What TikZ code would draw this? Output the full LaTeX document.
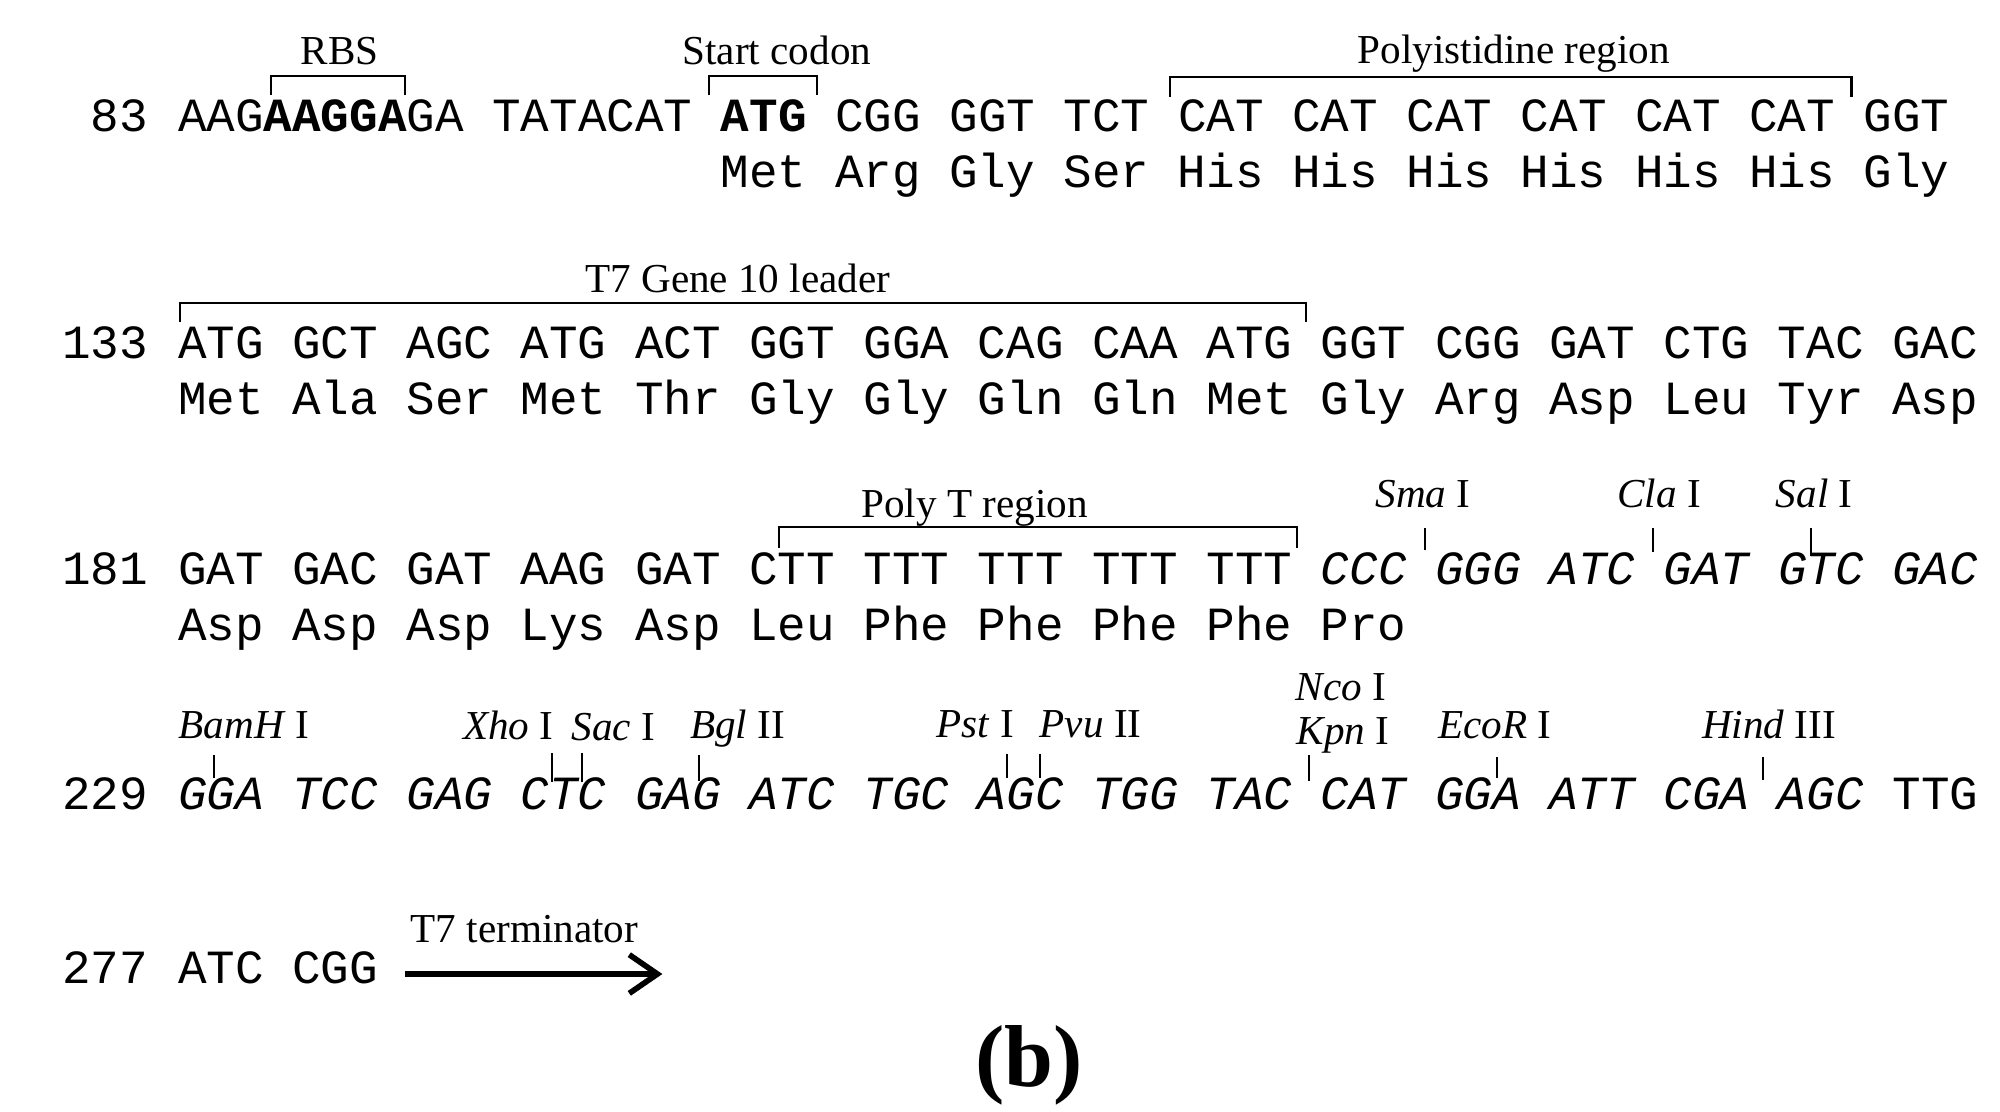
\documentclass[tikz,border=0pt]{standalone}
\usepackage{fontspec}
\setmainfont{Liberation Serif}
\setmonofont{Liberation Mono}
\usetikzlibrary{arrows.meta}
\newcommand{\tit}{\textit}

\begin{document}
\begin{tikzpicture}[x=0.01cm,y=-0.01cm,
  seq/.style={font=\fontsize{13.54}{16}\ttfamily, inner sep=0pt, anchor=base west},
  num/.style={font=\fontsize{13.54}{16}\ttfamily, inner sep=0pt, anchor=base east},
  lbl/.style={font=\fontsize{11.7}{14}\selectfont, inner sep=0pt, anchor=base},
  brk/.style={line width=0.65pt},
  cut/.style={line width=0.55pt}]
\useasboundingbox (0,0) rectangle (2000,1111);
\begin{scope}[xshift=0.63cm, x=0.2855cm]
% line 83
\node[num] (n83) at (3,131) {83};
\node[seq] (dna83) at (4,131) {AAG{\bfseries AAGGA}GA TATACAT {\bfseries ATG} CGG GGT TCT CAT CAT CAT CAT CAT CAT GGT};
\node[seq] (aa83) at (23,187) {Met Arg Gly Ser His His His His His His Gly};
\draw[brk] (7.29,95) -- (7.29,76) -- (11.98,76) -- (11.98,95);
\draw[brk] (22.6,95) -- (22.6,76) -- (26.4,76) -- (26.4,95);
\draw[brk] (38.74,97) -- (38.74,77) -- (62.6,77) -- (62.6,97);
\node[lbl] (rbs) at (9.69,64) {RBS};
\node[lbl] (startcod) at (24.99,64) {Start codon};
\node[lbl] (polyhis) at (50.79,63) {Polyistidine region};
% line 133
\node[num] (n133) at (3,358) {133};
\node[seq] (dna133) at (4,358) {ATG GCT AGC ATG ACT GGT GGA CAG CAA ATG GGT CGG GAT CTG TAC GAC};
\node[seq] (aa133) at (4,414) {Met Ala Ser Met Thr Gly Gly Gln Gln Met Gly Arg Asp Leu Tyr Asp};
\draw[brk] (4.1,322) -- (4.1,303) -- (43.5,303) -- (43.5,322);
\node[lbl] (gene10) at (23.62,292) {T7 Gene 10 leader};
% line 181
\node[num] (n181) at (3,584) {181};
\node[seq] (dna181) at (4,584) {GAT GAC GAT AAG GAT CTT TTT TTT TTT TTT {\itshape CCC GGG ATC GAT GTC GAC}};
\node[seq] (aa181) at (4,640) {Asp Asp Asp Lys Asp Leu Phe Phe Phe Phe Pro};
\draw[brk] (25.05,548) -- (25.05,527) -- (43.2,527) -- (43.2,548);
\node[lbl] (polyt) at (31.91,517) {Poly T region};
\node[lbl] (sma) at (47.60,507) {\tit{Sma} I};
\node[lbl] (cla) at (55.87,507) {\tit{Cla} I};
\node[lbl] (sal) at (61.30,507) {\tit{Sal} I};
\draw[cut] (47.67,528) -- (47.67,550);
\draw[cut] (55.65,528) -- (55.65,552);
\draw[cut] (61.2,528) -- (61.2,556);
% line 229
\node[num] (n229) at (3,809) {229};
\node[seq] (dna229) at (4,809) {{\itshape GGA TCC GAG CTC GAG ATC TGC AGC TGG TAC CAT GGA ATT CGA AGC} TTG};
\node[lbl] (bamh) at (6.34,738) {\tit{BamH} I};
\node[lbl] (xho) at (15.59,739) {\tit{Xho} I};
\node[lbl] (sac) at (19.26,740) {\tit{Sac} I};
\node[lbl] (bgl) at (23.61,738) {\tit{Bgl} II};
\node[lbl] (pst) at (31.94,737) {\tit{Pst} I};
\node[lbl] (pvu) at (35.97,737) {\tit{Pvu} II};
\node[lbl] (nco) at (44.73,700) {\tit{Nco} I};
\node[lbl] (kpn) at (44.80,744) {\tit{Kpn} I};
\node[lbl] (ecor) at (50.12,738) {\tit{EcoR} I};
\node[lbl] (hind) at (59.72,738) {\tit{Hind} III};
\draw[cut] (5.3,755) -- (5.3,778);
\draw[cut] (17.1,753) -- (17.1,782);
\draw[cut] (18.16,753) -- (18.16,782);
\draw[cut] (22.26,755) -- (22.26,781);
\draw[cut] (33.03,754) -- (33.03,778);
\draw[cut] (34.19,754) -- (34.19,778);
\draw[cut] (43.6,755) -- (43.6,781);
\draw[cut] (50.2,757) -- (50.2,778);
\draw[cut] (59.5,757) -- (59.5,780);
% line 277
\node[num] (n277) at (3,983) {277};
\node[seq] (dna277) at (4,983) {ATC CGG};
\coordinate (term0) at (11.98,974);
\coordinate (term1) at (20.98,974);
\draw[line width=1.6pt,-{Straight Barb[length=8pt,width=11pt]}] (term0) -- (term1);
\node[lbl] (term) at (16.15,942) {T7 terminator};
\end{scope}
\node[anchor=base, inner sep=0pt, font=\fontsize{25}{30}\bfseries] (panel) at (1029,1086) {(b)};
\end{tikzpicture}
\end{document}
